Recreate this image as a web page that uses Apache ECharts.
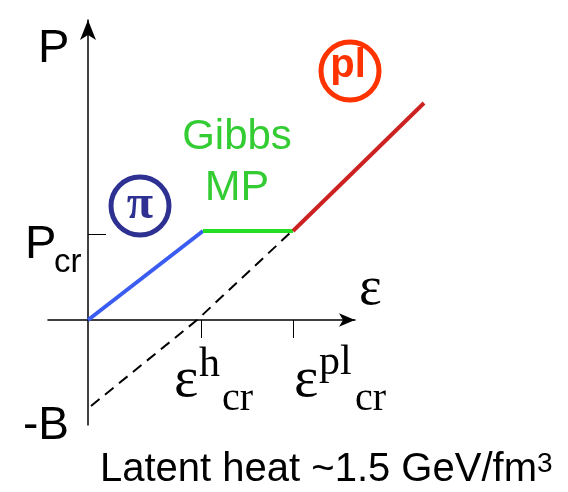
<!DOCTYPE html>
<html>
<head>
<meta charset="utf-8">
<script src="https://cdn.jsdelivr.net/npm/echarts@6/dist/echarts.min.js"></script>
<style>html,body{margin:0;padding:0;background:#fff;}#c{width:568px;height:492px;}</style>
</head>
<body>
<div id="c"></div>
<script>
// Energy density ε (x) vs pressure P (y), arbitrary units
var hadronPhase = [[0, 0], [11.5, 8.9]];          // π gas
var mixedPhase = [[11.5, 8.9], [20.5, 8.9]];      // Gibbs mixed phase
var plasmaPhase = [[20.5, 8.9], [33.6, 21.7]];    // plasma
var bagLine = [[0.3, -8.6], [10.9, 0], [20.2, 8.7]]; // extrapolation to -B
var xTicks = [11.3, 20.5];   // ε^h_cr, ε^pl_cr
var yTicks = [8.6];          // P_cr

var chart = echarts.init(document.getElementById('c'));
var SANS = '"Liberation Sans", Arial, sans-serif';
var SERIF = '"Liberation Serif", "Times New Roman", serif';

function txt(x, y, s, size, opts) {
  opts = opts || {};
  return {
    type: 'text', x: x, y: y, z: 10,
    style: {
      text: s, fill: opts.color || '#000',
      font: (opts.weight || 'normal') + ' ' + size + 'px ' + (opts.family || SANS),
      align: opts.align || 'left', verticalAlign: 'middle'
    }
  };
}
var hidden = { show: false };

chart.setOption({
  animation: false,
  grid: [
    { left: 48, top: 20, width: 307, height: 405 },
    { left: 48, top: 20, width: 430, height: 405 }
  ],
  xAxis: [{
    type: 'value', gridIndex: 0, min: -4, max: 26.7,
    axisLine: { onZero: true, symbol: ['none', 'arrow'], symbolSize: [10, 16], lineStyle: { color: '#000', width: 1.5 } },
    axisTick: { show: true, customValues: xTicks, length: 18, lineStyle: { color: '#000', width: 1 } },
    axisLabel: hidden, splitLine: hidden
  }, {
    type: 'value', gridIndex: 1, min: -4, max: 39,
    axisLine: hidden, axisTick: hidden, axisLabel: hidden, splitLine: hidden
  }],
  yAxis: [{
    type: 'value', gridIndex: 0, min: -10.5, max: 30,
    axisLine: { onZero: true, symbol: ['none', 'arrow'], symbolSize: [12, 20], lineStyle: { color: '#000', width: 1.5 } },
    axisTick: { show: true, inside: true, customValues: yTicks, length: 18, lineStyle: { color: '#000', width: 1 } },
    axisLabel: hidden, splitLine: hidden
  }, {
    type: 'value', gridIndex: 1, min: -10.5, max: 30,
    axisLine: hidden, axisTick: hidden, axisLabel: hidden, splitLine: hidden
  }],
  series: [
    { type: 'line', xAxisIndex: 1, yAxisIndex: 1, data: bagLine, clip: false, showSymbol: false, z: 1,
      lineStyle: { color: '#000', width: 2, type: [11, 7] } },
    { type: 'line', xAxisIndex: 1, yAxisIndex: 1, data: hadronPhase, clip: false, showSymbol: false, z: 3,
      lineStyle: { color: '#3a5cf0', width: 4 } },
    { type: 'line', xAxisIndex: 1, yAxisIndex: 1, data: mixedPhase, clip: false, showSymbol: false, z: 3,
      lineStyle: { color: '#22dd22', width: 4 } },
    { type: 'line', xAxisIndex: 1, yAxisIndex: 1, data: plasmaPhase, clip: false, showSymbol: false, z: 3,
      lineStyle: { color: '#cc2222', width: 4 } }
  ],
  graphic: [
    txt(38, 49, 'P', 47),
    txt(25, 245, 'P', 47),
    txt(54, 263, 'cr', 33),
    txt(23, 426, '-B', 46),
    txt(359, 290, 'ε', 54, { family: SERIF }),
    txt(174, 381, 'ε', 58, { family: SERIF }),
    txt(199, 365, 'h', 42, { family: SERIF }),
    txt(222, 399, 'cr', 40, { family: SERIF }),
    txt(294, 381, 'ε', 58, { family: SERIF }),
    txt(319, 363, 'pl', 42, { family: SERIF }),
    txt(355, 399, 'cr', 40, { family: SERIF }),
    txt(237, 137, 'Gibbs', 42, { color: '#33cc33', align: 'center' }),
    txt(237, 188, 'MP', 43, { color: '#33cc33', align: 'center' }),
    { type: 'text', x: 100, y: 470, z: 10,
      style: {
        text: '{a|Latent heat ~1.5 GeV/fm}{s|3}', verticalAlign: 'middle', align: 'left',
        rich: {
          a: { fontSize: 40, fontFamily: SANS, fill: '#000', color: '#000' },
          s: { fontSize: 28, fontFamily: SANS, fill: '#000', color: '#000', verticalAlign: 'top' }
        }
      } },
    { type: 'circle', shape: { cx: 140, cy: 206, r: 29 }, z: 10,
      style: { fill: 'none', stroke: '#2e3192', lineWidth: 5 } },
    txt(140, 206, 'π', 48, { family: SERIF, weight: 'bold', color: '#2e3192', align: 'center' }),
    { type: 'circle', shape: { cx: 350, cy: 71, r: 29 }, z: 10,
      style: { fill: 'none', stroke: '#ff3300', lineWidth: 5 } },
    txt(348, 66, 'pl', 40, { weight: 'bold', color: '#ff3300', align: 'center' })
  ]
});
</script>
</body>
</html>
